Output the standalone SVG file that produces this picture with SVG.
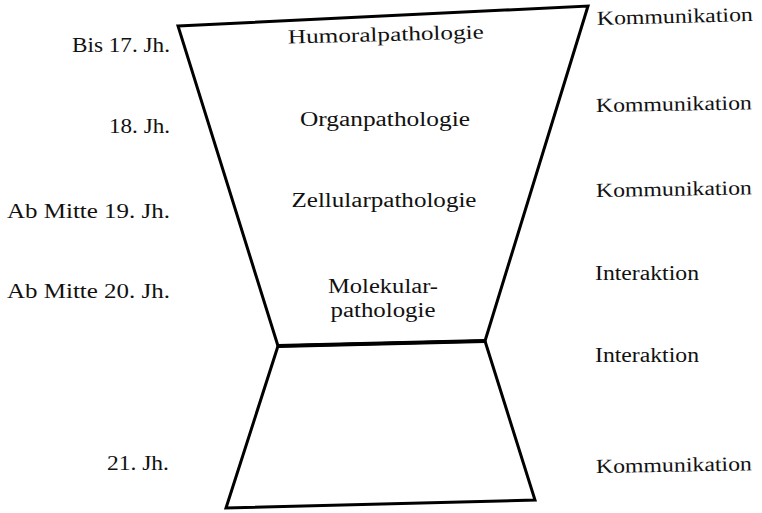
<svg xmlns="http://www.w3.org/2000/svg" width="762" height="513" viewBox="0 0 762 513">
<style>
.shape{fill:#fff;stroke:#000;stroke-width:3;stroke-linejoin:miter}
.t{font-family:"Liberation Serif","DejaVu Serif",serif;font-size:20px;fill:#111}
.c{text-anchor:middle}
.r{text-anchor:end}
</style>
<rect width="762" height="513" fill="#fff"/>
<g id="top-funnel">
<polygon class="shape" points="178,26 588,6 485,341 278,346"/>
<text class="t c" x="386" y="41" textLength="196" lengthAdjust="spacingAndGlyphs" transform="rotate(-1.5 386 41)">Humoralpathologie</text>
<text class="t c" x="385" y="126" textLength="170" lengthAdjust="spacingAndGlyphs">Organpathologie</text>
<text class="t c" x="384" y="207" textLength="185" lengthAdjust="spacingAndGlyphs">Zellularpathologie</text>
<text class="t c" x="383" y="293" textLength="110" lengthAdjust="spacingAndGlyphs">Molekular-</text>
<text class="t c" x="383" y="317" textLength="105" lengthAdjust="spacingAndGlyphs">pathologie</text>
</g>
<g id="bottom-funnel">
<polygon class="shape" points="278,346 485,341 535,500 226,508"/>
<line x1="278" y1="346" x2="485" y2="341" stroke="#000" stroke-width="4"/>
</g>
<g id="left-labels">
<text class="t r" x="170" y="52" textLength="98" lengthAdjust="spacingAndGlyphs">Bis 17. Jh.</text>
<text class="t r" x="170" y="133" textLength="61" lengthAdjust="spacingAndGlyphs">18. Jh.</text>
<text class="t r" x="170" y="218" textLength="163" lengthAdjust="spacingAndGlyphs">Ab Mitte 19. Jh.</text>
<text class="t r" x="170" y="298" textLength="163" lengthAdjust="spacingAndGlyphs">Ab Mitte 20. Jh.</text>
<text class="t r" x="169" y="470" textLength="62" lengthAdjust="spacingAndGlyphs">21. Jh.</text>
</g>
<g id="right-labels">
<text class="t" x="597" y="25" textLength="156" lengthAdjust="spacingAndGlyphs" transform="rotate(-1.5 597 25)">Kommunikation</text>
<text class="t" x="596" y="112" textLength="156" lengthAdjust="spacingAndGlyphs" transform="rotate(-1 596 112)">Kommunikation</text>
<text class="t" x="596" y="197" textLength="156" lengthAdjust="spacingAndGlyphs" transform="rotate(-1 596 197)">Kommunikation</text>
<text class="t" x="595" y="280" textLength="104" lengthAdjust="spacingAndGlyphs">Interaktion</text>
<text class="t" x="595" y="362" textLength="104" lengthAdjust="spacingAndGlyphs">Interaktion</text>
<text class="t" x="596" y="473" textLength="156" lengthAdjust="spacingAndGlyphs" transform="rotate(-1 596 473)">Kommunikation</text>
</g>
<g id="connectors"></g>
</svg>
